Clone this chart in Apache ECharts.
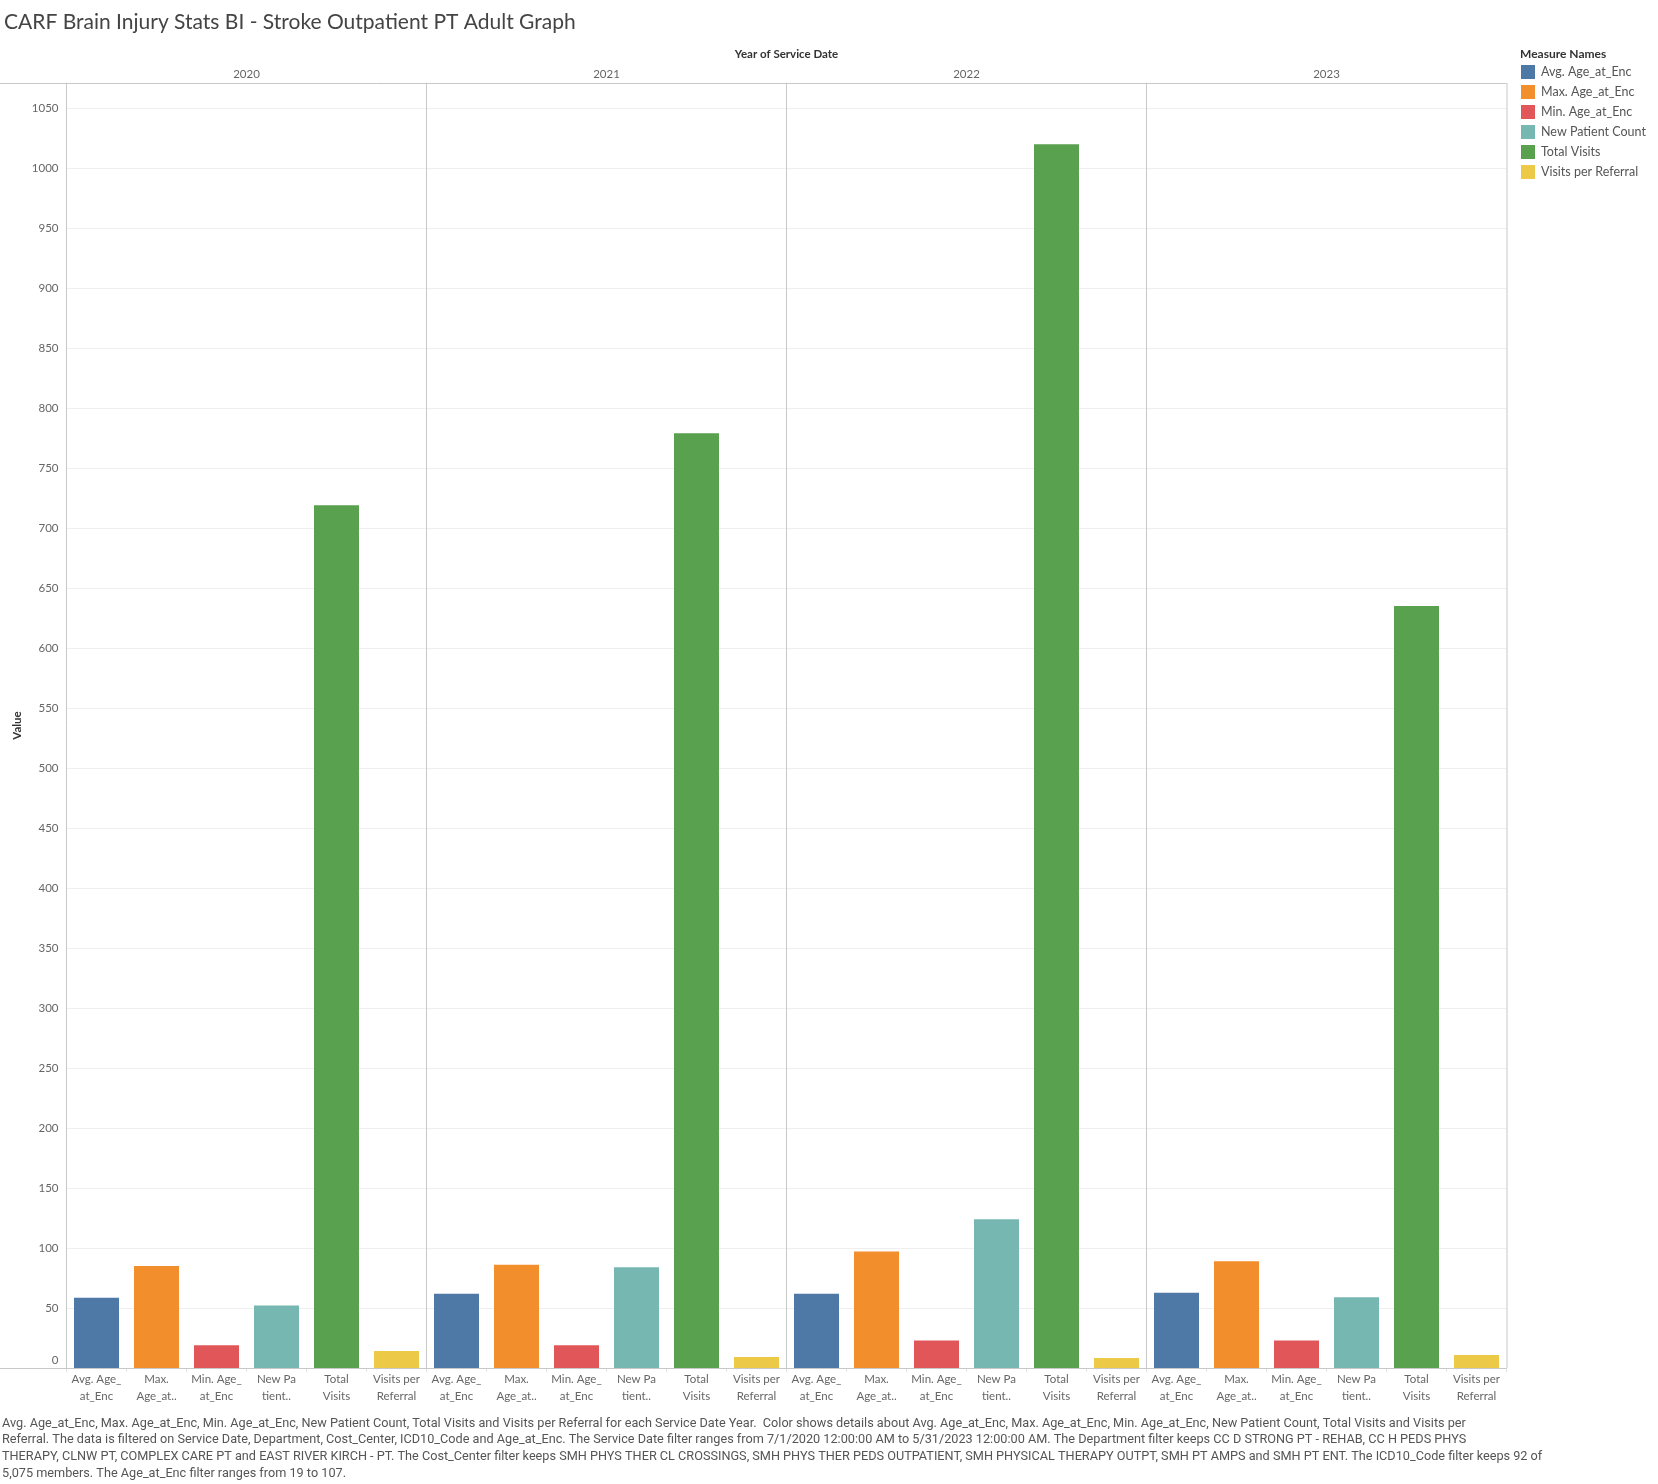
<!DOCTYPE html>
<html>
<head>
<meta charset="utf-8">
<script src="https://cdn.jsdelivr.net/npm/echarts@6/dist/echarts.min.js"></script>
<style>
html,body{margin:0;padding:0;background:#fff;}
#c{width:1658px;height:1484px;}
</style>
</head>
<body>
<div id="c"></div>
<script>
const years = ['2020', '2021', '2022', '2023'];
const measures = ['Avg. Age_at_Enc', 'Max. Age_at_Enc', 'Min. Age_at_Enc', 'New Patient Count', 'Total Visits', 'Visits per Referral'];
const tickLabels = ['Avg. Age_\nat_Enc', 'Max.\nAge_at..', 'Min. Age_\nat_Enc', 'New Pa\ntient..', 'Total\nVisits', 'Visits per\nReferral'];
const avgAge = [58.6, 61.9, 61.9, 62.8];
const maxAge = [85, 86, 97, 89];
const minAge = [19, 19, 23, 23];
const newPatients = [52, 84, 124, 59];
const totalVisits = [719, 779, 1020, 635];
const visitsPerReferral = [14.1, 9.1, 8.3, 10.8];
const colors = ['#4e79a7', '#f28e2b', '#e15759', '#76b7b2', '#59a14f', '#edc948'];

const valuesByMeasure = [avgAge, maxAge, minAge, newPatients, totalVisits, visitsPerReferral];

const FONT = 'Lato, "Open Sans", sans-serif';
const CAPFONT = 'Roboto, Lato, sans-serif';
const W = 1658, H = 1484;
const plotLeft = 66.5, plotRight = 1506.5, plotTop = 83, plotBottom = 1368;
const panelW = (plotRight - plotLeft) / years.length;
const yMax = 1071;

const caption = [
  'Avg. Age_at_Enc, Max. Age_at_Enc, Min. Age_at_Enc, New Patient Count, Total Visits and Visits per Referral for each Service Date Year.  Color shows details about Avg. Age_at_Enc, Max. Age_at_Enc, Min. Age_at_Enc, New Patient Count, Total Visits and Visits per',
  'Referral. The data is filtered on Service Date, Department, Cost_Center, ICD10_Code and Age_at_Enc. The Service Date filter ranges from 7/1/2020 12:00:00 AM to 5/31/2023 12:00:00 AM. The Department filter keeps CC D STRONG PT - REHAB, CC H PEDS PHYS',
  'THERAPY, CLNW PT, COMPLEX CARE PT and EAST RIVER KIRCH - PT. The Cost_Center filter keeps SMH PHYS THER CL CROSSINGS, SMH PHYS THER PEDS OUTPATIENT, SMH PHYSICAL THERAPY OUTPT, SMH PT AMPS and SMH PT ENT. The ICD10_Code filter keeps 92 of',
  '5,075 members. The Age_at_Enc filter ranges from 19 to 107.'
];

const grids = [], xAxes = [], yAxes = [], series = [];
years.forEach((yr, i) => {
  grids.push({
    left: plotLeft + panelW * i, width: panelW,
    top: plotTop, bottom: H - plotBottom,
    show: false, containLabel: false
  });
  xAxes.push({
    type: 'category', gridIndex: i, data: tickLabels,
    axisLine: { show: true, lineStyle: { color: '#c8c8c8', width: 1 } },
    axisTick: { show: true, length: 4, lineStyle: { color: '#e2e2e2' } },
    axisLabel: { interval: 0, color: '#666', fontSize: 11.5, fontFamily: FONT, lineHeight: 17, margin: 3 },
    splitLine: { show: false }
  });
  yAxes.push({
    type: 'value', gridIndex: i, min: 0, max: yMax, interval: 50,
    name: i === 0 ? 'Value' : '',
    nameLocation: 'middle', nameGap: 43, nameRotate: 90,
    nameTextStyle: { color: '#333', fontSize: 11.5, fontWeight: 'bold', fontFamily: FONT },
    axisLine: { show: true, lineStyle: { color: '#c8c8c8', width: 1 } },
    axisTick: { show: false },
    axisLabel: {
      show: i === 0, color: '#666', fontSize: 11.5, fontFamily: FONT, margin: 8,
      formatter: v => (v % 50 === 0 ? (v === 0 ? '{z|0}' : String(v)) : ''),
      rich: { z: { color: '#666', fontSize: 11.5, fontFamily: FONT, padding: [0, 0, 16, 0] } }
    },
    splitLine: { show: true, lineStyle: { color: '#efefef', width: 1 } }
  });
  measures.forEach((m, k) => {
    series.push({
      type: 'bar', name: m, xAxisIndex: i, yAxisIndex: i,
      barWidth: '75%', barGap: '-100%',
      itemStyle: { color: colors[k] },
      emphasis: { disabled: true },
      data: measures.map((_, j) => (j === k ? valuesByMeasure[k][i] : '-'))
    });
  });
});

const graphics = [];
graphics.push({ type: 'line', shape: { x1: 0, y1: plotTop + 0.5, x2: plotRight, y2: plotTop + 0.5 }, style: { stroke: '#c8c8c8', lineWidth: 1 }, z: 10 });
graphics.push({ type: 'line', shape: { x1: 0, y1: plotBottom + 0.5, x2: plotRight, y2: plotBottom + 0.5 }, style: { stroke: '#c8c8c8', lineWidth: 1 }, z: 10 });
graphics.push({ type: 'line', shape: { x1: plotRight + 0.5, y1: plotTop, x2: plotRight + 0.5, y2: plotBottom }, style: { stroke: '#c8c8c8', lineWidth: 1 }, z: 10 });
graphics.push({ type: 'text', x: (plotLeft + plotRight) / 2, y: 54, style: { text: 'Year of Service Date', fill: '#333', font: 'bold 11.5px ' + FONT, textAlign: 'center', textVerticalAlign: 'middle' } });
years.forEach((yr, i) => {
  graphics.push({ type: 'text', x: plotLeft + panelW * (i + 0.5), y: 74, style: { text: yr, fill: '#666', font: '11.5px ' + FONT, textAlign: 'center', textVerticalAlign: 'middle' } });
});
graphics.push({ type: 'text', x: 1520, y: 54, style: { text: 'Measure Names', fill: '#333', font: 'bold 12px ' + FONT, textAlign: 'left', textVerticalAlign: 'middle' } });
graphics.push({ type: 'text', x: 2, y: 1415, style: { text: caption.join('\n'), fill: '#555', font: '12.7px ' + CAPFONT, lineHeight: 16.7, textAlign: 'left', textVerticalAlign: 'top' } });

const chart = echarts.init(document.getElementById('c'), null, { renderer: 'canvas' });
chart.setOption({
  animation: false,
  backgroundColor: '#fff',
  textStyle: { fontFamily: FONT },
  title: {
    text: 'CARF Brain Injury Stats BI - Stroke Outpatient PT Adult Graph',
    left: 4, top: 12, padding: 0,
    textStyle: { color: '#444', fontSize: 21, fontWeight: 'normal', fontFamily: FONT }
  },
  legend: {
    data: measures, orient: 'vertical', left: 1521, top: 65, padding: 0,
    icon: 'rect', itemWidth: 14, itemHeight: 14, itemGap: 6,
    selectedMode: false,
    textStyle: { color: '#555', fontSize: 12.5, fontFamily: FONT, padding: [0, 0, 0, 1] }
  },
  grid: grids,
  xAxis: xAxes,
  yAxis: yAxes,
  series: series,
  graphic: graphics
});
</script>
</body>
</html>
